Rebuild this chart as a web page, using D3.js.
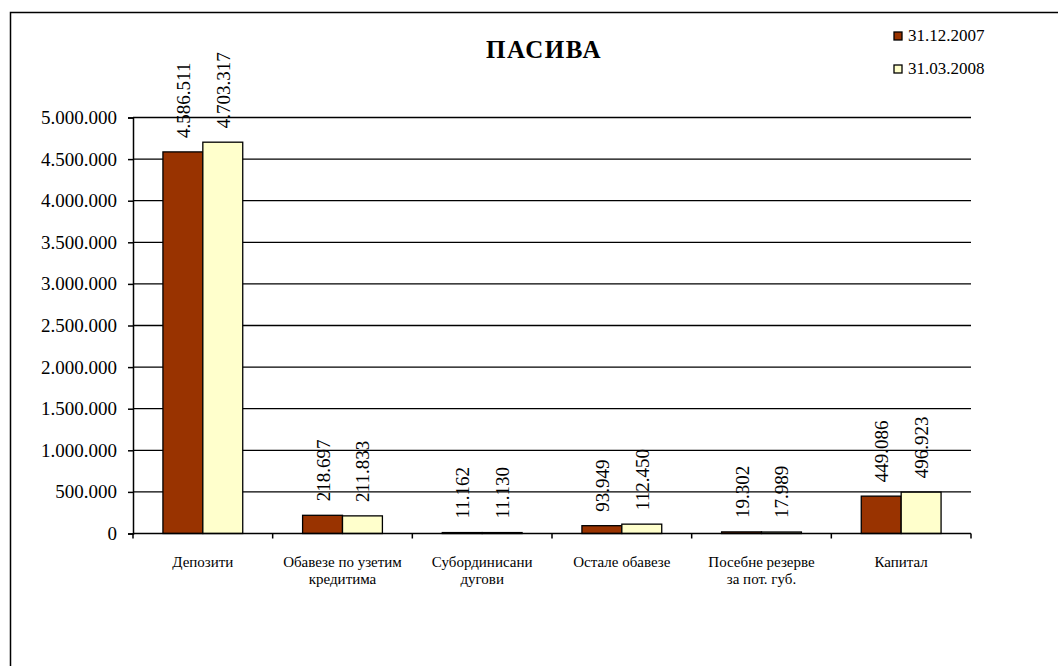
<!DOCTYPE html>
<html>
<head>
<meta charset="utf-8">
<script src="https://cdnjs.cloudflare.com/ajax/libs/d3/7.8.5/d3.min.js"></script>
<style>
  html, body { margin: 0; padding: 0; background: #fff; }
</style>
</head>
<body>
<svg id="chart" width="1058" height="666"></svg>
<script>
// Balance-sheet liabilities, two reporting dates
const categories = [
  ["Депозити"],
  ["Обавезе по узетим", "кредитима"],
  ["Субординисани", "дугови"],
  ["Остале обавезе"],
  ["Посебне резерве", "за пот. губ."],
  ["Капитал"]
];
const seriesNames = ["31.12.2007", "31.03.2008"];
const values2007 = [4586511, 218697, 11162, 93949, 19302, 449086];
const values2008 = [4703317, 211833, 11130, 112450, 17989, 496923];
const yTicks = [0, 500000, 1000000, 1500000, 2000000, 2500000, 3000000, 3500000, 4000000, 4500000, 5000000];
const seriesColors = ["#993300", "#FFFFCC"];

const serif = "Liberation Serif";
const locale = d3.formatLocale({ decimal: ",", thousands: ".", grouping: [3], currency: ["", ""] });
const fmt = locale.format(",d");

const svg = d3.select("#chart");

// outer chart frame
svg.append("rect")
  .attr("x", 10.5).attr("y", 12.5)
  .attr("width", 1100).attr("height", 700)
  .attr("fill", "none").attr("stroke", "#000").attr("stroke-width", 1.5);

const plot = { left: 133, right: 971, top: 117.5, bottom: 533.5 };

const x0 = d3.scaleBand()
  .domain(d3.range(categories.length))
  .range([plot.left, plot.right])
  .paddingInner(0).paddingOuter(0);

const x1 = d3.scaleBand()
  .domain([0, 1])
  .range([0, x0.bandwidth()])
  .paddingInner(0)
  .paddingOuter(0.75);

const y = d3.scaleLinear().domain([0, 5000000]).range([plot.bottom, plot.top]);

// horizontal gridlines
svg.append("g")
  .selectAll("line")
  .data(yTicks.filter(t => t > 0))
  .join("line")
  .attr("x1", plot.left).attr("x2", plot.right)
  .attr("y1", d => y(d)).attr("y2", d => y(d))
  .attr("stroke", "#000").attr("stroke-width", 1.3);

// y axis
const yAxis = d3.axisLeft(y).tickValues(yTicks).tickSize(5).tickPadding(11).tickFormat(fmt);
const gy = svg.append("g").attr("transform", `translate(${plot.left},0)`).call(yAxis);
gy.select(".domain").attr("stroke", "#000").attr("stroke-width", 1.5);
gy.selectAll(".tick line").attr("stroke", "#000").attr("stroke-width", 1.5);
gy.selectAll(".tick text")
  .style("font-family", serif).style("font-size", "19px").attr("fill", "#000");

// bars
const series = [values2007, values2008];
const groups = svg.append("g")
  .selectAll("g")
  .data(categories.map((c, i) => i))
  .join("g")
  .attr("transform", i => `translate(${x0(i)},0)`);

groups.selectAll("rect")
  .data(i => series.map((s, k) => ({ k, v: s[i] })))
  .join("rect")
  .attr("x", d => x1(d.k))
  .attr("width", x1.bandwidth())
  .attr("y", d => y(d.v))
  .attr("height", d => y(0) - y(d.v))
  .attr("fill", d => seriesColors[d.k])
  .attr("stroke", "#000").attr("stroke-width", 1.3);

// value labels, rotated above each bar
groups.selectAll("text.val")
  .data(i => series.map((s, k) => ({ k, v: s[i] })))
  .join("text")
  .attr("class", "val")
  .attr("transform", d => `translate(${x1(d.k) + x1.bandwidth() / 2 + 7},${y(d.v) - 14}) rotate(-90)`)
  .attr("text-anchor", "start")
  .style("font-family", serif).style("font-size", "19px")
  .text(d => fmt(d.v));

// x axis with category separators
const xAxisLine = svg.append("g");
xAxisLine.append("line")
  .attr("x1", plot.left).attr("x2", plot.right)
  .attr("y1", plot.bottom).attr("y2", plot.bottom)
  .attr("stroke", "#000").attr("stroke-width", 1.5);
xAxisLine.selectAll("line.tick")
  .data(d3.range(categories.length + 1))
  .join("line")
  .attr("class", "tick")
  .attr("x1", i => plot.left + i * x0.bandwidth())
  .attr("x2", i => plot.left + i * x0.bandwidth())
  .attr("y1", plot.bottom).attr("y2", plot.bottom + 5)
  .attr("stroke", "#000").attr("stroke-width", 1.5);

// category labels
const catLabels = svg.append("g")
  .selectAll("text")
  .data(categories.map((c, i) => ({ c, i })))
  .join("text")
  .attr("text-anchor", "middle")
  .style("font-family", serif).style("font-size", "15px")
  .attr("x", d => x0(d.i) + x0.bandwidth() / 2)
  .attr("y", 567);
catLabels.selectAll("tspan")
  .data(d => d.c.map((line, j) => ({ line, j, x: x0(d.i) + x0.bandwidth() / 2 })))
  .join("tspan")
  .attr("x", d => d.x)
  .attr("dy", d => d.j === 0 ? 0 : 17)
  .text(d => d.line);

// title
svg.append("text")
  .attr("x", 544).attr("y", 58)
  .attr("text-anchor", "middle")
  .style("font-family", serif).style("font-size", "25px").style("font-weight", "bold")
  .style("letter-spacing", "1.5px")
  .text("ПАСИВА");

// legend
const legend = svg.append("g")
  .selectAll("g")
  .data(seriesNames.map((n, k) => ({ n, k })))
  .join("g")
  .attr("transform", d => `translate(894,${32 + d.k * 33})`);
legend.append("rect")
  .attr("width", 8).attr("height", 8)
  .attr("fill", d => seriesColors[d.k])
  .attr("stroke", "#000").attr("stroke-width", 1.3);
legend.append("text")
  .attr("x", 14).attr("y", 9)
  .style("font-family", serif).style("font-size", "17px")
  .text(d => d.n);
</script>
</body>
</html>
